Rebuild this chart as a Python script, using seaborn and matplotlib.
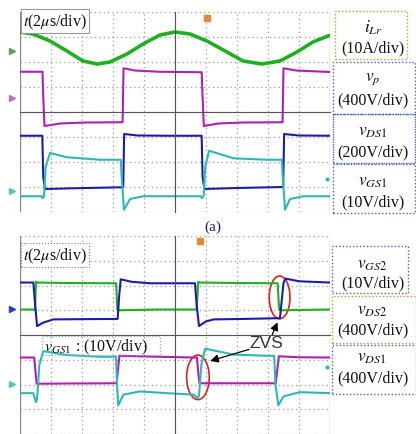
import numpy as np
import matplotlib
matplotlib.use("Agg")
import matplotlib.pyplot as plt
import seaborn as sns
from matplotlib.patches import Rectangle, Ellipse

# Scope traces: time in us (2 us/div, 10 div), level in screen divisions

# ---- upper screen (a) ----
ilr_t = [0, 0.84, 1.94, 3.03, 4.06, 4.97, 5.81, 6.90, 7.94, 9.03, 10.0, 10.97,
         12.06, 13.35, 14.39, 15.61, 16.77, 17.87, 18.90, 19.87, 20.0]
ilr_v = [3.2, 3.12, 2.84, 2.44, 2.04, 1.92, 2.0, 2.32, 2.72, 3.08, 3.2, 3.12,
         2.84, 2.4, 2.04, 1.92, 2.04, 2.4, 2.8, 3.04, 3.06]

vp_t = [0, 1.45, 1.50, 1.58, 2.6, 4.2, 6.62, 6.68, 7.4, 9.0, 11.72, 11.78,
        11.86, 12.8, 14.4, 16.94, 17.0, 17.8, 20.0]
vp_v = [1.61, 1.61, 0.6, -0.56, -0.46, -0.42, -0.41, 1.75, 1.66, 1.61, 1.59, 0.6,
        -0.56, -0.46, -0.42, -0.41, 1.75, 1.66, 1.60]

vds1a_t = [0, 1.44, 1.50, 1.62, 3.5, 6.66, 6.72, 7.6, 9.5, 11.72, 11.78, 11.90,
           14.0, 16.98, 17.04, 18.0, 20.0]
vds1a_v = [-0.95, -0.95, -2.6, -3.08, -3.05, -3.01, -0.88, -0.94, -0.95, -0.95, -2.6, -3.08,
           -3.04, -3.0, -0.88, -0.94, -0.95]

vgs1a_t = [0, 1.40, 1.46, 1.55, 1.65, 1.94, 3.03, 5.16, 6.50, 6.56, 6.71, 7.10, 7.94,
           11.68, 11.74, 11.85, 11.95, 12.2, 13.76, 15.9, 16.90, 16.95, 17.1, 17.42, 18.28, 20.0]
vgs1a_v = [-3.37, -3.37, -3.45, -3.37, -2.2, -1.64, -1.81, -1.91, -1.91, -2.6, -3.91, -3.48, -3.37,
           -3.37, -3.45, -3.37, -2.2, -1.55, -1.85, -1.91, -1.91, -2.6, -3.91, -3.48, -3.37, -3.37]

# ---- lower screen ----
vgs2_t = [0, 0.86, 0.98, 1.10, 1.5, 2.15, 4.0, 6.30, 6.40, 6.50, 7.2, 8.39, 11.29, 11.40,
          11.55, 12.0, 12.5, 14.5, 16.77, 16.92, 17.0, 17.12, 18.0, 20.0]
vgs2_v = [2.12, 2.12, 1.2, 0.36, 0.5, 0.63, 0.64, 0.65, 1.6, 2.25, 2.15, 2.09, 2.09, 1.2,
          0.36, 0.55, 0.63, 0.65, 0.68, 1.6, 2.1, 2.28, 2.17, 2.12]

vds2_t = [0, 0.97, 1.03, 1.10, 3.0, 6.20, 6.28, 6.40, 9.0, 11.40, 11.50, 11.60, 14.0,
          16.62, 16.72, 16.85, 20.0]
vds2_v = [1.03, 1.03, 2.15, 2.12, 2.10, 2.09, 1.03, 1.0, 1.03, 1.03, 2.15, 2.12, 2.10,
          2.09, 1.03, 1.0, 1.03]

vgs1b_t = [0, 0.86, 1.03, 1.10, 1.25, 1.5, 3.01, 5.16, 6.20, 6.26, 6.34, 6.67, 7.74, 9.46,
           11.2, 11.45, 11.55, 11.70, 11.94, 13.76, 15.9, 16.40, 16.48, 16.67, 17.0, 18.06, 20.0]
vgs1b_v = [-2.35, -2.35, -2.71, -2.6, -1.2, -0.65, -0.81, -0.88, -0.88, -2.0, -2.84, -2.41, -2.28, -2.35,
           -2.41, -2.55, -2.45, -1.2, -0.55, -0.79, -0.84, -0.84, -2.0, -2.84, -2.48, -2.31, -2.35]

vds1b_t = [0, 0.92, 1.00, 1.08, 3.0, 6.24, 6.32, 6.42, 9.0, 11.2, 11.42, 11.50, 11.58,
           14.0, 16.50, 16.60, 16.70, 18.0, 20.0]
vds1b_v = [-0.91, -0.91, -1.5, -1.97, -1.96, -1.95, -1.4, -0.84, -0.88, -0.91, -0.91, -1.5, -1.95,
           -1.95, -1.95, -1.4, -0.86, -0.9, -0.91]

# channel ground markers (left edge)
gnd_a = [2.44, 0.56, -3.16]
gnd_b = [1.04, -1.99]

# channel labels
labels_a = [r"$i_{Lr}$", r"$v_p$", r"$v_{DS1}$", r"$v_{GS1}$"]
scales_a = ["(10A/div)", "(400V/div)", "(200V/div)", "(10V/div)"]
labels_b = [r"$v_{GS2}$", r"$v_{DS2}$", r"$v_{DS1}$"]
scales_b = ["(10V/div)", "(400V/div)", "(400V/div)"]

GREEN = "#1fb01f"
MAGENTA = "#b01fb0"
BLUE = "#1c1ca8"
CYAN = "#2db8b8"
ORANGE = "#e8892f"
BOXBLUE = "#4a5ad0"

sns.set_style("white")
plt.rcParams["font.family"] = ["Liberation Serif", "DejaVu Serif"]
plt.rcParams["mathtext.fontset"] = "stix"

W, H = 416, 435
fig = plt.figure(figsize=(W / 100, H / 100), dpi=100)


def fx(px):
    return px / W


def fy(py):
    return 1 - py / H


def scope_axes(top_px, bot_px, ylo):
    ax = fig.add_axes([fx(20), fy(bot_px), fx(330) - fx(20), fy(top_px) - fy(bot_px)])
    ax.patch.set_alpha(0)
    ax.set_xlim(0, 20)
    ax.set_ylim(ylo, 4)
    ax.set_xticks(np.arange(0, 21, 2))
    ax.set_yticks(np.arange(-4, 5, 1))
    ax.set_xticks(np.arange(0, 20.01, 0.4), minor=True)
    ax.set_yticks(np.arange(-4, 4.01, 0.2), minor=True)
    ax.grid(True, which="major", ls=(0, (1, 2.5)), color="#999999", lw=0.9)
    for s in ["top", "right"]:
        ax.spines[s].set_visible(False)
    ax.spines["left"].set_position(("data", 10))
    ax.spines["bottom"].set_position(("data", 0))
    for s in ["left", "bottom"]:
        ax.spines[s].set_color("#555555")
        ax.spines[s].set_linewidth(0.8)
    ax.tick_params(which="both", direction="inout", labelleft=False, labelbottom=False,
                   color="#555555", width=0.6)
    ax.tick_params(which="major", length=5)
    ax.tick_params(which="minor", length=3)
    ax.axvline(0, color="#888888", lw=0.9)
    ax.axvline(20, color="#999999", lw=0.9)
    return ax


def trace(ax, t, v, color, lw=1.5):
    sns.lineplot(x=t, y=v, ax=ax, color=color, lw=lw, sort=False, estimator=None)


def box(x0, y0, x1, y1, color, ls=(0, (1, 1.5)), lw=1.0):
    fig.add_artist(Rectangle((fx(x0), fy(y1)), fx(x1) - fx(x0), fy(y0) - fy(y1),
                             transform=fig.transFigure, fill=False, ec=color, ls=ls, lw=lw))


# ---------- upper screen ----------
ax1 = scope_axes(13, 213, -4)
trace(ax1, ilr_t, ilr_v, GREEN, lw=2.6)
trace(ax1, vp_t, vp_v, MAGENTA)
trace(ax1, vds1a_t, vds1a_v, BLUE)
trace(ax1, vgs1a_t, vgs1a_v, CYAN)
for g, c in zip(gnd_a, ["#5f9f5f", "#c46cc4", "#5cc0c0"]):
    ax1.plot([-0.5], [g], ls="none", marker=">", ms=5, color=c, clip_on=False)
ax1.plot([12.06], [3.78], ls="none", marker="s", ms=4, color=ORANGE, clip_on=False)
ax1.plot([19.8], [-2.68], ls="none", marker="o", ms=2, color=CYAN, clip_on=False)

fig.text(fx(23), fy(22), r"$t$(2$\mu$s/div)", fontsize=11.5, va="center", ha="left",
         color="#111111",
         bbox=dict(boxstyle="square,pad=0.12", fc="white", ec="#999999", lw=0.8))

# ---------- lower screen ----------
ax2 = scope_axes(237, 435, -3.92)
trace(ax2, vds2_t, vds2_v, GREEN)
trace(ax2, vgs2_t, vgs2_v, BLUE)
trace(ax2, vds1b_t, vds1b_v, MAGENTA)
trace(ax2, vgs1b_t, vgs1b_v, CYAN)
for g, c in zip(gnd_b, ["#2a3ad0", "#5cc0c0"]):
    ax2.plot([-0.5], [g], ls="none", marker=">", ms=5, color=c, clip_on=False)
ax2.plot([11.6], [3.8], ls="none", marker="s", ms=4, color=ORANGE, clip_on=False)
ax2.plot([19.8], [-1.28], ls="none", marker="o", ms=2, color=CYAN, clip_on=False)

# ZVS marks
ax2.add_patch(Ellipse((16.75, 1.52), 1.34, 1.73, fill=False, ec="#e02020", lw=1.2))
ax2.add_patch(Ellipse((11.48, -1.71), 1.46, 1.8, fill=False, ec="#e02020", lw=1.2))
ax2.text(15.92, -0.32, "ZVS", fontsize=12.5, ha="center", va="center", color="#333333",
         family="Liberation Sans")
ax2.annotate("", xy=(16.68, 0.62), xytext=(16.2, -0.1),
             arrowprops=dict(arrowstyle="-|>", color="black", lw=0.9, mutation_scale=12))
ax2.annotate("", xy=(12.1, -1.08), xytext=(14.95, -0.55),
             arrowprops=dict(arrowstyle="-|>", color="black", lw=0.9, mutation_scale=12))

fig.text(fx(23), fy(256), r"$t$(2$\mu$s/div)", fontsize=11.5, va="center", ha="left",
         color="#111111",
         bbox=dict(boxstyle="square,pad=0.12", fc="white", ec="#777777", lw=0.8, ls=":"))
fig.text(fx(44), fy(347), r"$v_{GS1}$ : (10V/div)", fontsize=11.5, va="center", ha="left",
         color="#111111")
box(42, 337, 160, 356, "#8fa8d8", ls=(0, (1, 1.5)), lw=0.9)

fig.text(fx(213), fy(227), "(a)", fontsize=11, ha="center", va="center", color="#1a2a5a")

# ---------- channel label boxes ----------
box(335, 12, 407, 60, ORANGE)
box(333, 63, 415, 115, BOXBLUE)
box(333, 115, 415, 164, BOXBLUE, ls=(0, (1, 0.8)))
box(333, 165, 415, 214, BOXBLUE)
ya = [(28, 48), (79, 100), (132, 152), (182, 202)]
for lab, sc, (y1, y2) in zip(labels_a, scales_a, ya):
    fig.text(fx(373), fy(y1), lab, fontsize=12.5, ha="center", va="center", color="#111111")
    fig.text(fx(373), fy(y2), sc, fontsize=11.5, ha="center", va="center", color="#111111")

box(332, 247, 408, 294, BOXBLUE)
box(332, 297, 416, 344, ORANGE)
box(332, 346, 416, 395, BOXBLUE)
yb = [(265, 283), (311, 330), (358, 378)]
for lab, sc, (y1, y2) in zip(labels_b, scales_b, yb):
    fig.text(fx(372), fy(y1), lab, fontsize=12.5, ha="center", va="center", color="#111111")
    fig.text(fx(373), fy(y2), sc, fontsize=11.5, ha="center", va="center", color="#111111")

fig.savefig("out.png", dpi=100, facecolor="white")
